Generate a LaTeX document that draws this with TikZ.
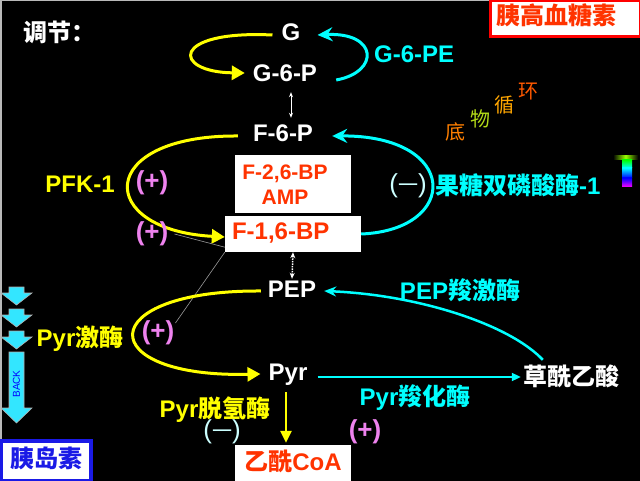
\documentclass[tikz,border=0pt]{standalone}
\usepackage{fontspec}
\setmainfont{Liberation Sans}
\newfontfamily\cjk{Noto Sans CJK SC}
\usepackage{xcolor}
\usetikzlibrary{arrows.meta, positioning}

\definecolor{hotyellow}{HTML}{FFFF00}
\definecolor{hotcyan}{HTML}{00FFFF}
\definecolor{plusviolet}{HTML}{EE82EE}
\definecolor{minuscyan}{HTML}{CCFFFF}
\definecolor{boxred}{HTML}{FF3300}
\definecolor{insblue}{HTML}{1A1AE6}
\definecolor{navcyan}{HTML}{33E6FF}

\tikzset{
  txt/.style={font=\fontsize{24}{28}\selectfont\bfseries, inner sep=1pt, text height=17pt, text depth=5pt},
  wtxt/.style={txt, text=white},
  ytxt/.style={txt, text=hotyellow},
  ctxt/.style={txt, text=hotcyan},
  plus/.style={font=\fontsize{26}{30}\selectfont\bfseries, text=plusviolet, inner sep=1pt},
  minus/.style={font=\fontsize{26}{30}\selectfont, text=minuscyan, inner sep=1pt},
  wbox/.style={fill=white, inner sep=0pt},
  deco/.style={font=\fontsize{20}{20}\cjk, inner sep=0pt},
  yarc/.style={draw=hotyellow, line width=3pt, -{Triangle[length=13pt, width=14pt]}},
  carc/.style={draw=hotcyan, line width=3pt, -{Stealth[length=15pt, width=14pt, inset=5pt]}},
  carcthin/.style={draw=hotcyan, line width=2.5pt, -{Stealth[length=12pt, width=10pt, inset=4pt]}},
  cline/.style={draw=hotcyan, line width=2pt, -{Triangle[length=9pt, width=8pt]}},
  yline/.style={draw=hotyellow, line width=2.5pt, -{Triangle[length=12pt, width=11pt]}},
  dbl/.style={draw=white, line width=1pt, {Stealth[length=5pt, width=4pt]}-{Stealth[length=5pt, width=4pt]}},
  dotarr/.style={draw=white, line width=1.5pt, densely dotted, {Stealth[length=6pt, width=5pt]}-{Stealth[length=6pt, width=5pt]}},
  grayline/.style={draw=gray!80, line width=0.6pt},
  navarrow/.style={fill=navcyan, draw=gray!60, line width=0.6pt}
}

\begin{document}
\begin{tikzpicture}[x=1pt, y=-1pt]
  \useasboundingbox (0,0) rectangle (640,481);
  \fill[black] (0,0) rectangle (640,481);
  \draw[gray!55, line width=1.5pt] (0.75,441) -- (0.75,0.75) -- (490,0.75);

  % title and hormones
  \node[wtxt, anchor=west] (title) at (22,36) {\cjk 调节：};
  \node[txt, text=boxred, draw=red, line width=3pt, fill=white, text width=138pt, inner xsep=6pt, minimum height=36pt] (glucagon) at (565,19) {\cjk 胰高血糖素};
  \node[txt, text=insblue, draw=insblue, line width=3.5pt, fill=white, minimum width=90pt, minimum height=40pt] (insulin) at (46,461) {\cjk 胰岛素};

  % glucose cycle
  \node[wtxt] (G) at (291,35) {G};
  \node[wtxt] (G6P) at (285,76) {G-6-P};
  \node[ctxt, anchor=west] (G6PE) at (373,57) {G-6-PE};
  \node[wtxt] (F6P) at (283,136) {F-6-P};
  \draw[yarc] ([xshift=-8pt]G.west) .. controls (170,30) and (172,72) .. ([xshift=-7pt,yshift=3pt]G6P.west);
  \draw[carc] ([xshift=18pt,yshift=-4pt]G6P.east) .. controls (380,72) and (378,32) .. ([xshift=16pt]G.east);
  \draw[dbl] ([xshift=6pt,yshift=-4pt]G6P.south) -- ([xshift=8pt,yshift=6pt]F6P.north);

  % fructose cycle
  \node[wbox, minimum width=116pt, minimum height=58pt] (effbox) at (293,184) {};
  \node[font=\fontsize{21}{25}\selectfont\bfseries, text=boxred, align=center, inner sep=0pt] (effectors) at (285,185) {F-2,6-BP\\AMP};
  \node[txt, text=boxred, fill=white, text width=122pt, inner xsep=7pt, inner ysep=0pt, minimum height=36pt] (F16BP) at (293,234) {F-1,6-BP};
  \draw[yarc] ([xshift=-14pt]F6P.west) .. controls (95,135) and (95,230) .. ([yshift=-3pt]F16BP.west);
  \draw[carc] (F16BP.east) .. controls (460,230) and (460,135) .. ([xshift=18pt]F6P.east);
  \node[ytxt] (PFK) at (80,187) {PFK-1};
  \node[plus] (plusA) at (152,183) {(+)};
  \node[plus] (plusB) at (152,234) {(+)};
  \node[minus] (minusA) at (408,186) {({\fontsize{20}{20}\cjk 一})};
  \node[ctxt, anchor=west] (FBPase) at (434,189) {{\cjk 果糖双磷酸酶}-1};
  \draw[grayline] ([xshift=5pt]plusB.east) -- ([yshift=5pt]F16BP.south west);

  % pyruvate cycle
  \node[wtxt] (PEP) at (292,291) {PEP};
  \draw[dotarr] (F16BP.south) -- (PEP.north);
  \node[wtxt] (Pyr) at (288,374) {Pyr};
  \node[wtxt] (OAA) at (571,379) {\cjk 草酰乙酸};
  \node[ctxt] (PEPCK) at (460,293) {PEP{\cjk 羧激酶}};
  \node[ytxt] (PK) at (80,340) {Pyr{\cjk 激酶}};
  \node[plus] (plusC) at (158,333) {(+)};
  \draw[grayline] ([yshift=10pt]plusC.east) -- (F16BP.south west);
  \draw[yarc] ([xshift=-6pt]PEP.west) .. controls (92,290) and (92,378) .. ([xshift=-7pt]Pyr.west);
  \draw[carcthin] ([xshift=21pt,yshift=7pt]OAA.north west) .. controls (510,325) and (420,295) .. ([xshift=7pt]PEP.east);
  \draw[cline] ([xshift=9pt,yshift=-3pt]Pyr.east) -- ([xshift=-1pt,yshift=2pt]OAA.west);
  \node[ctxt] (PC) at (415,399) {Pyr{\cjk 羧化酶}};
  \node[ytxt] (PDH) at (215,411) {Pyr{\cjk 脱氢酶}};
  \node[minus] (minusB) at (222,432) {({\fontsize{20}{20}\cjk 一})};
  \node[plus] (plusD) at (365,432) {(+)};
  \node[txt, text=boxred, fill=white, minimum width=116pt, minimum height=38pt] (CoA) at (293,464) {{\cjk 乙酰}CoA};
  \draw[yline] ([xshift=-2pt,yshift=-6pt]Pyr.south) -- ([xshift=-7pt,yshift=2pt]CoA.north);

  % substrate cycle tag, one glyph per step up the slope
  \node[deco, text=orange] (diA) at (455,132) {底};
  \node[deco, text=yellow!70!green] (diB) at (480,119) {物};
  \node[deco, text=orange!70!yellow] (diC) at (504,105) {循};
  \node[deco, text=orange!70!red] (diD) at (528,92) {环};

  % colour bar
  \shade[left color=black, right color=black, middle color=yellow!60!green] (613,156) rectangle (638,160);
  \shade[top color=green, bottom color=cyan] (622,160) rectangle (632,168);
  \shade[top color=cyan, bottom color=blue] (622,168) rectangle (632,178);
  \shade[top color=blue, bottom color=magenta] (622,178) rectangle (632,187);

  % nav arrows
  \foreach \y in {287,309,331} {
    \filldraw[navarrow] (9,\y) -- (24,\y) -- (24,{\y+6}) -- (32,{\y+6}) -- (16.5,{\y+18}) -- (1,{\y+6}) -- (9,{\y+6}) -- cycle;
  }
  \filldraw[navarrow] (9,352) -- (24,352) -- (24,408) -- (32,408) -- (16.5,423) -- (1,408) -- (9,408) -- cycle;
  \node[rotate=90, font=\fontsize{10}{10}\selectfont, text=blue, inner sep=0pt] (back) at (16.5,384) {BACK};
\end{tikzpicture}
\end{document}
